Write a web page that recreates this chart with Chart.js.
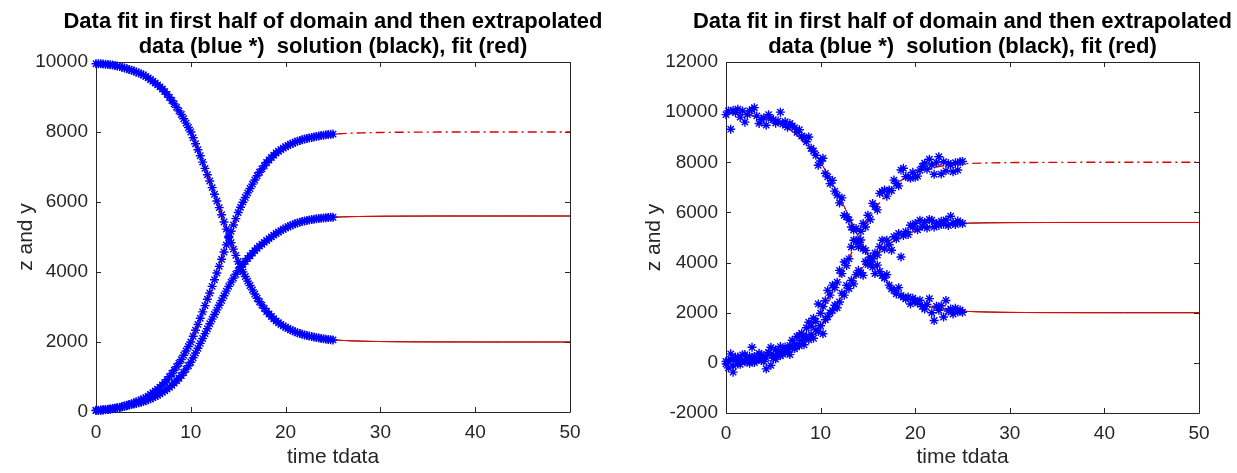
<!DOCTYPE html>
<html>
<head>
<meta charset="utf-8">
<script src="https://cdn.jsdelivr.net/npm/chart.js@4.4.1/dist/chart.umd.min.js"></script>
<style>
  html, body { margin: 0; padding: 0; background: #fff; }
  #wrap { position: relative; width: 1237px; height: 473px; overflow: hidden; }
  canvas { position: absolute; top: 0; }
  #left { left: 0; }
  #right { left: 620px; }
</style>
</head>
<body>
<div id="wrap">
  <canvas id="left" width="620" height="473"></canvas>
  <canvas id="right" width="617" height="473"></canvas>
</div>
<script>
// textos
const titulo = ["Data fit in first half of domain and then extrapolated",
                "data (blue *)  solution (black), fit (red)"];
const etiquetaX = "time tdata";
const etiquetaY = "z and y";

// tiempos de los datos (primera mitad del dominio)
const tData = [0,0.25,0.5,0.75,1,1.25,1.5,1.75,2,2.25,2.5,2.75,3,3.25,3.5,3.75,4,4.25,4.5,4.75,
  5,5.25,5.5,5.75,6,6.25,6.5,6.75,7,7.25,7.5,7.75,8,8.25,8.5,8.75,9,9.25,9.5,9.75,
  10,10.25,10.5,10.75,11,11.25,11.5,11.75,12,12.25,12.5,12.75,13,13.25,13.5,13.75,14,14.25,14.5,14.75,
  15,15.25,15.5,15.75,16,16.25,16.5,16.75,17,17.25,17.5,17.75,18,18.25,18.5,18.75,19,19.25,19.5,19.75,
  20,20.25,20.5,20.75,21,21.25,21.5,21.75,22,22.25,22.5,22.75,23,23.25,23.5,23.75,24,24.25,24.5,24.75,25];

// grafico izquierdo: datos sin ruido
const zLimpio = [9950,9949,9947,9942,9935,9930,9922,9912,9900,9885,9868,9850,9830,9809,9787,9764,9740,9714,9686,9659,
  9630,9590,9545,9500,9450,9400,9345,9290,9230,9155,9075,8990,8900,8805,8705,8605,8500,8380,8255,8130,
  8000,7835,7665,7495,7320,7140,6960,6780,6600,6410,6220,6030,5840,5635,5430,5225,5020,4835,4655,4475,
  4300,4150,4005,3870,3740,3615,3490,3370,3250,3150,3055,2960,2870,2800,2730,2665,2600,2550,2505,2460,
  2420,2385,2350,2320,2290,2265,2242,2220,2200,2184,2168,2154,2140,2127,2114,2102,2090,2082,2074,2067,2060];
const wLimpio = [50,52,55,60,66,72,80,90,102,116,132,150,170,192,215,238,262,288,316,344,
  372,410,455,500,550,600,655,710,770,845,925,1010,1100,1195,1295,1395,1500,1620,1745,1870,
  2000,2165,2335,2505,2680,2860,3040,3220,3400,3590,3780,3970,4160,4365,4570,4775,4980,5165,5345,5525,
  5700,5850,5995,6130,6260,6385,6510,6630,6750,6850,6945,7040,7130,7200,7270,7335,7400,7450,7495,7540,
  7580,7615,7650,7680,7710,7735,7758,7780,7800,7816,7832,7846,7860,7873,7886,7898,7910,7918,7926,7933,7940];
const yLimpio = [40,46,53,61,70,79,89,99,110,122,135,150,165,180,196,212,228,245,263,281,
  300,325,352,380,410,444,480,518,560,606,655,706,760,825,893,965,1040,1130,1225,1320,
  1420,1550,1685,1820,1960,2100,2240,2380,2520,2655,2787,2918,3050,3185,3320,3455,3590,3710,3825,3935,
  4040,4132,4220,4305,4390,4465,4540,4612,4680,4738,4793,4847,4900,4952,5003,5052,5100,5142,5182,5222,
  5260,5292,5322,5352,5380,5402,5423,5442,5460,5473,5486,5498,5510,5519,5528,5537,5545,5550,5556,5561,5565];

// grafico derecho: datos con ruido
const zRuido = [9900,10050,9320,10080,9980,10120,9800,10050,9600,9900,10050,10100,10180,9850,9550,9700,9780,9480,9900,9750,
  9700,9560,9650,10000,9520,9620,9400,9550,9450,9380,9200,9300,9050,8980,8820,9010,8560,8450,8280,7880,
  8050,8160,7560,7420,7150,7280,6850,6690,6380,6580,5880,5830,5700,5420,5300,4890,4630,4900,4560,4480,
  4060,4020,3820,3560,3900,3650,3480,3380,3520,3100,2950,2890,2750,3000,2690,2620,2550,2630,2350,2580,
  2480,2380,2500,2250,2150,2330,2560,2000,1690,2260,2100,2280,1830,2490,2070,2150,1950,2180,2030,2110,2020];
const wRuido = [-40,60,360,-120,230,-50,150,320,40,180,-20,620,250,120,380,90,280,-240,410,620,
  180,520,300,650,420,630,560,700,900,640,1050,1090,1180,1020,1400,1620,1460,1780,1650,2350,
  1980,2250,2480,2890,2700,3100,3000,3220,3690,3560,4020,3880,4150,4620,4890,5360,4800,5250,5560,5420,
  5890,5720,6360,6230,6100,6760,6830,6890,6650,6890,6870,7290,7150,7060,7690,7760,7430,7420,7360,7600,
  7400,7450,7680,7830,7960,7720,8120,7890,7520,7990,8220,7530,8020,7660,7950,7890,7620,7980,7690,8020,8030];
const yRuido = [60,-200,150,-370,90,230,-60,110,330,40,260,120,10,240,150,330,60,200,420,-100,
  310,150,460,280,350,530,420,330,620,560,760,680,890,720,1050,920,1130,980,1320,1250,
  1480,1160,1720,1840,1990,2090,2300,2200,2430,2780,2700,3090,2960,3290,3150,3520,3690,3600,3490,4040,
  3920,4220,4150,4380,4300,4630,4890,4540,4890,4710,4490,5030,4950,5160,4225,5080,5230,5120,5490,5420,
  5560,5310,5690,5450,5600,5380,5720,5690,5420,5560,5480,5650,5530,5700,5480,5850,5590,5520,5660,5590,5560];

// solucion y ajuste en todo el dominio
const tLinea = [0,1,2,3,4,5,6,7,8,9,10,11,12,13,14,15,16,17,18,19,20,21,22,23,24,25,
  26,27,28,29,30,31,32,33,34,35,36,37,38,39,40,41,42,43,44,45,46,47,48,49,50];
const zAjuste = [9950,9935,9900,9830,9740,9630,9450,9230,8900,8500,8000,7320,6600,5840,5020,4300,3740,3250,2870,2600,
  2420,2290,2200,2140,2090,2060,2045,2033,2025,2018,2013,2010,2007,2005,2004,2003,2002,2002,2001,2001,
  2001,2000,2000,2000,2000,2000,2000,2000,2000,2000,2000];
const wAjuste = [50,65,100,170,260,370,550,770,1100,1500,2000,2680,3400,4160,4980,5700,6260,6750,7130,7400,
  7580,7710,7800,7860,7910,7940,7955,7967,7975,7982,7987,7990,7993,7995,7996,7997,7998,7998,7999,7999,
  7999,8000,8000,8000,8000,8000,8000,8000,8000,8000,8000];
const yAjuste = [40,70,110,165,228,300,410,560,760,1040,1420,1960,2520,3050,3590,4040,4390,4680,4900,5100,
  5260,5380,5460,5510,5545,5565,5575,5582,5587,5590,5593,5595,5596,5597,5598,5599,5600,5600,5600,5600,
  5600,5600,5600,5600,5600,5600,5600,5600,5600,5600,5600];

const ejeX = { min: 0, max: 50, paso: 10 };
const ejeYIzq = { min: 0, max: 10000, paso: 2000 };
const ejeYDer = { min: -2000, max: 12000, paso: 2000 };

const colorEje = "#262626";
Chart.defaults.font.family = "'Liberation Sans', Arial, sans-serif";
Chart.defaults.color = colorEje;

function puntos(xs, ys) {
  return xs.map((x, i) => ({ x: x, y: ys[i] }));
}

function estrellas(ys) {
  return {
    data: puntos(tData, ys), showLine: false, pointStyle: "star",
    pointRadius: 4.5, pointHoverRadius: 4.5, borderColor: "#0000ff",
    backgroundColor: "#0000ff", borderWidth: 1.4, clip: false
  };
}

function linea(ys, color, dash, ancho) {
  return {
    data: puntos(tLinea, ys), showLine: true, pointRadius: 0, borderColor: color,
    borderWidth: ancho || 1, borderDash: dash || [], cubicInterpolationMode: "monotone", fill: false
  };
}

// caja, marcas hacia adentro y titulo al estilo matlab
const marco = {
  id: "marco",
  beforeDatasetsDraw(chart) {
    const { ctx, chartArea: a, scales } = chart;
    const L = 5;
    ctx.save();
    ctx.strokeStyle = colorEje;
    ctx.lineWidth = 1;
    ctx.beginPath();
    ctx.rect(Math.round(a.left) + 0.5, Math.round(a.top) + 0.5,
             Math.round(a.right - a.left), Math.round(a.bottom - a.top));
    scales.x.ticks.forEach(t => {
      const px = Math.round(scales.x.getPixelForValue(t.value)) + 0.5;
      ctx.moveTo(px, a.bottom); ctx.lineTo(px, a.bottom - L);
      ctx.moveTo(px, a.top); ctx.lineTo(px, a.top + L);
    });
    scales.y.ticks.forEach(t => {
      const py = Math.round(scales.y.getPixelForValue(t.value)) + 0.5;
      ctx.moveTo(a.left, py); ctx.lineTo(a.left + L, py);
      ctx.moveTo(a.right, py); ctx.lineTo(a.right - L, py);
    });
    ctx.stroke();
    ctx.restore();
  },
  afterDraw(chart) {
    const { ctx, chartArea: a } = chart;
    const cx = (a.left + a.right) / 2;
    ctx.save();
    ctx.fillStyle = "#000";
    ctx.font = "bold 22px 'Liberation Sans', Arial, sans-serif";
    ctx.textAlign = "center";
    ctx.textBaseline = "alphabetic";
    ctx.fillText(titulo[0], cx, 28);
    ctx.fillText(titulo[1], cx, 53);
    ctx.restore();
  }
};

function crearGrafico(id, datosZ, datosW, datosY, ejeY, anchoY, altoX, padDer, padTituloY) {
  const config = {
    type: "scatter",
    data: {
      datasets: [
        estrellas(datosZ), estrellas(datosW), estrellas(datosY),
        linea(zAjuste, "#ff0000"), linea(yAjuste, "#ff0000"),
        linea(wAjuste, "#e00000", [9, 4, 2, 4], 1.4),
        linea(zAjuste, "#000000"), linea(yAjuste, "#000000")
      ]
    },
    options: {
      responsive: false, animation: false, devicePixelRatio: 1,
      layout: { padding: { top: 62, right: padDer, bottom: 0, left: 0 } },
      plugins: { legend: { display: false }, tooltip: { enabled: false } },
      scales: {
        x: {
          type: "linear", min: ejeX.min, max: ejeX.max,
          ticks: { stepSize: ejeX.paso, padding: 9, font: { size: 19 }, color: colorEje,
                   callback: v => String(v) },
          grid: { display: false, drawTicks: false }, border: { display: false },
          title: { display: true, text: etiquetaX, font: { size: 21 }, color: colorEje, padding: { top: 0, bottom: 3 } },
          afterFit: s => { s.height = altoX; }
        },
        y: {
          type: "linear", min: ejeY.min, max: ejeY.max,
          ticks: { stepSize: ejeY.paso, padding: 8, font: { size: 19 }, color: colorEje,
                   callback: v => String(v) },
          grid: { display: false, drawTicks: false }, border: { display: false },
          title: { display: true, text: etiquetaY, font: { size: 21 }, color: colorEje, padding: { top: padTituloY, bottom: 0 } },
          afterFit: s => { s.width = anchoY; }
        }
      }
    },
    plugins: [marco]
  };
  return new Chart(document.getElementById(id).getContext("2d"), config);
}

crearGrafico("left", zLimpio, wLimpio, yLimpio, ejeYIzq, 96, 61, 50, 14);
crearGrafico("right", zRuido, wRuido, yRuido, ejeYDer, 106, 60, 38, 22);
</script>
</body>
</html>
